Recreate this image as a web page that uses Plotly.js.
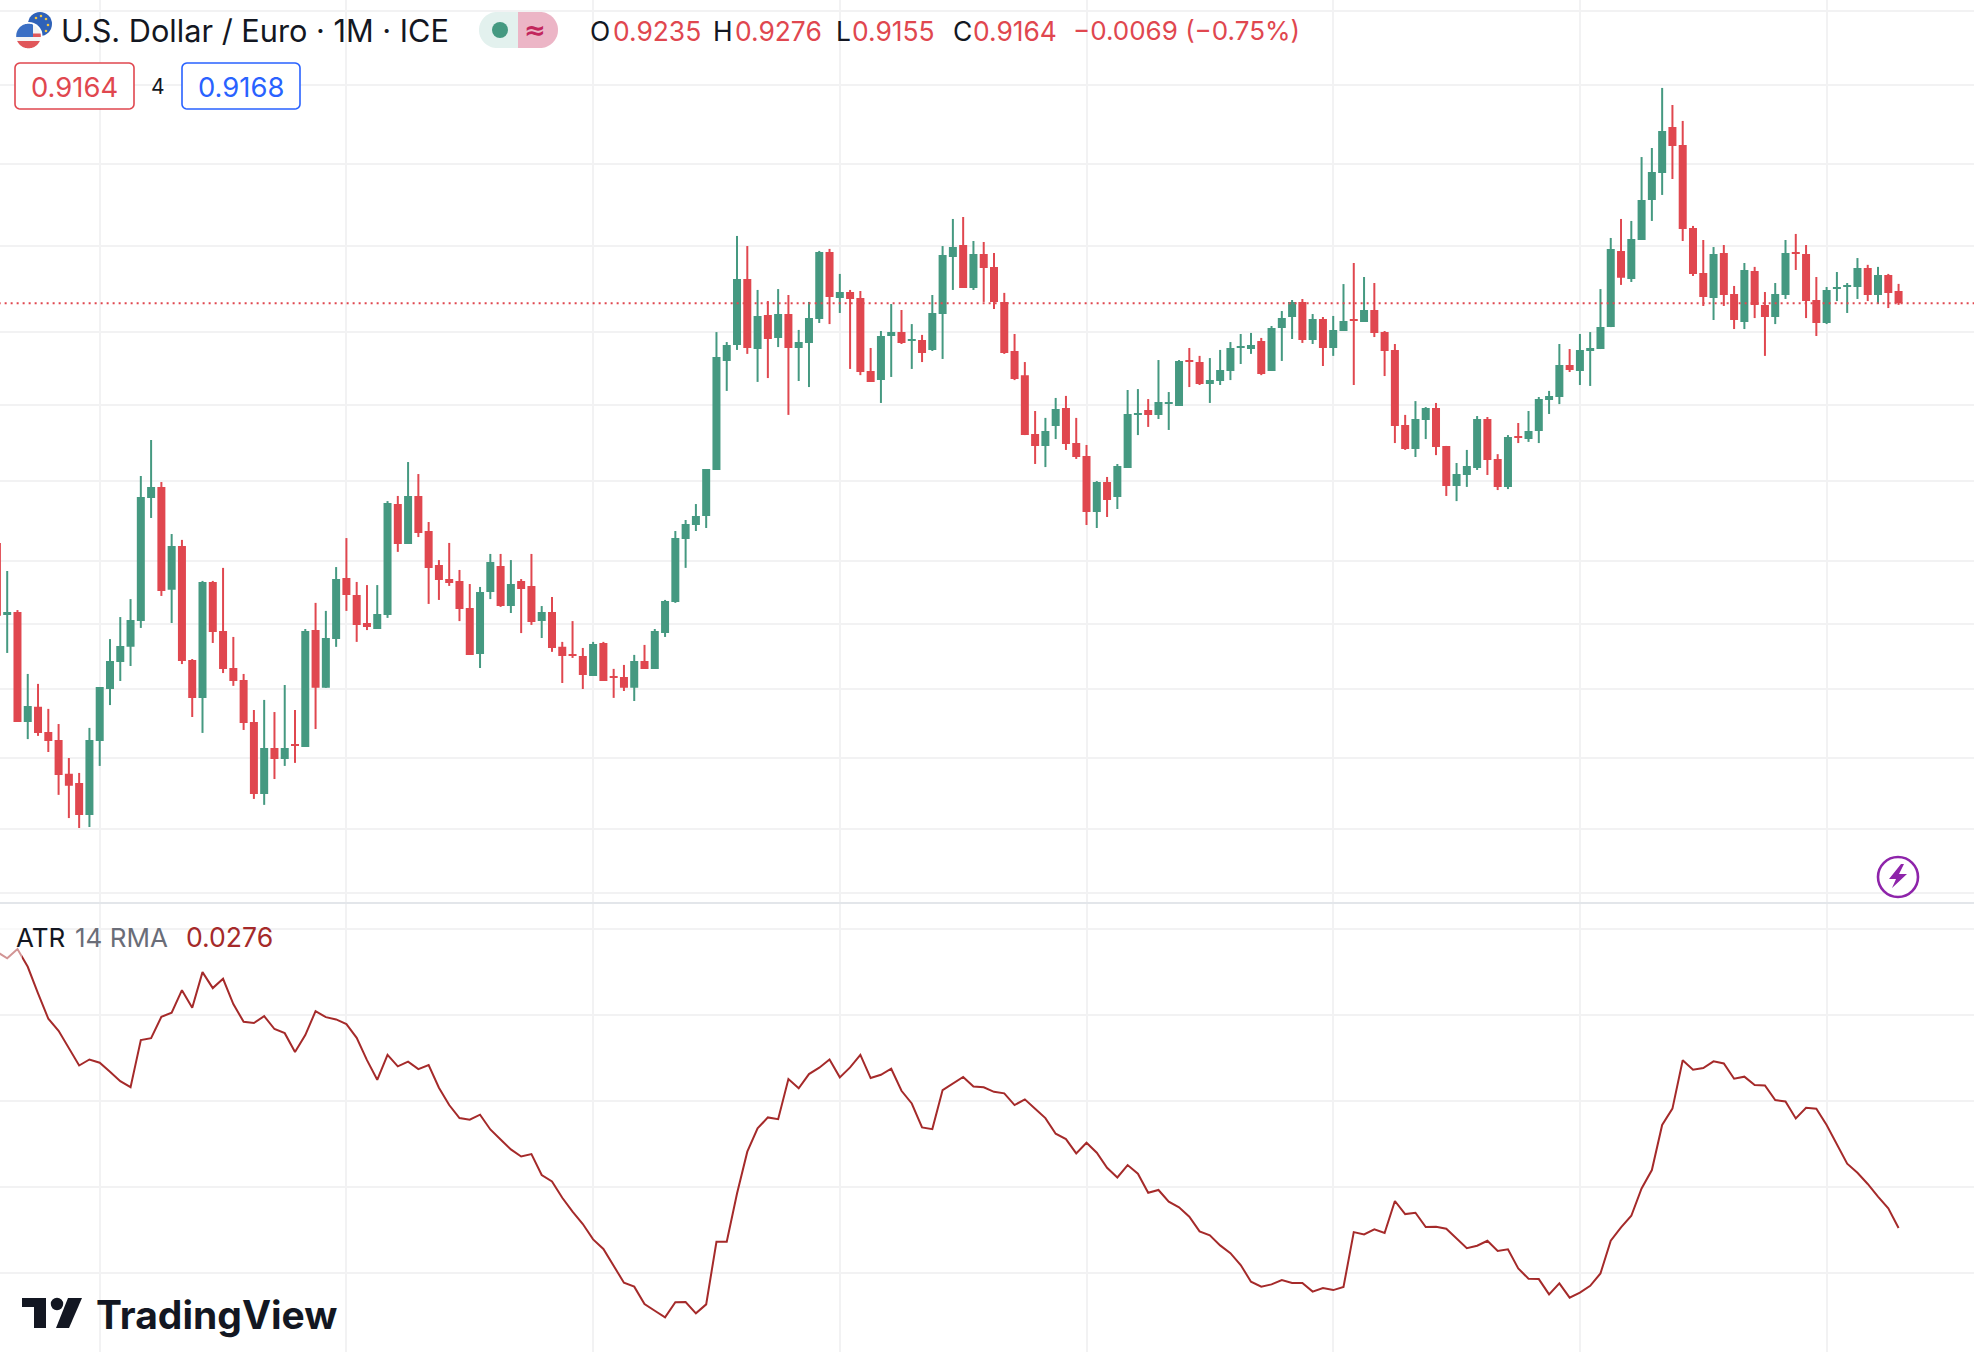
<!DOCTYPE html>
<html>
<head>
<meta charset="utf-8">
<script src="https://cdn.plot.ly/plotly-3.0.1.min.js"></script>
<style>html,body{margin:0;padding:0;background:#fff}#chart{width:1974px;height:1352px}</style>
</head>
<body>
<div id="chart"></div>
<script>
const open_ = [
.7890,.7543,.7557,.7055,.7122,.7011,.6976,.6830,.6791,.6657,
.6972,.7202,.7324,.7394,.7514,.8115,.8171,.7662,.7875,.7334,
.7162,.7700,.7468,.7297,.7243,.7055,.6745,.6941,.6894,.6959,
.6946,.7472,.7207,.7430,.7719,.7638,.7505,.7477,.7543,.8084,
.7885,.8125,.7949,.7782,.7714,.7705,.7576,.7361,.7652,.7777,
.7585,.7705,.7681,.7514,.7557,.7394,.7361,.7352,.7261,.7412,
.7261,.7256,.7207,.7329,.7293,.7458,.7604,.7909,.7979,.8024,
.8258,.8840,.8929,.9304,.8906,.9098,.8968,.9103,.8912,.8940,
.9075,.9463,.9195,.9229,.9195,.8785,.8735,.8979,.9001,.8951,
.8956,.8901,.9103,.9433,.9504,.9252,.9451,.9375,.9172,.8895,
.8762,.8446,.8383,.8488,.8584,.8398,.8330,.8044,.8196,.8120,
.8268,.8547,.8573,.8547,.8605,.8595,.8845,.8834,.8714,.8730,
.8785,.8912,.8906,.8951,.8785,.9024,.9086,.9172,.8956,.9075,
.8912,.9007,.9075,.9058,.9126,.9001,.8901,.8493,.8367,.8520,
.8584,.8383,.8176,.8232,.8268,.8525,.8315,.8171,.8435,.8419,
.8462,.8627,.8643,.8818,.8785,.8895,.8906,.9029,.9469,.9305,
.9534,.9775,.9942,1.0231,1.0117,.9606,.9340,.9195,.9457,.9218,
.9058,.9351,.9154,.9086,.9212,.9463,.9451,.9183,.9052,.9246,
.9258,.9258,.9369,.9212,.9328,.9235];
const high_ = [
.7890,.7753,.7566,.7270,.7225,.7113,.7046,.6898,.6834,.7029,
.7211,.7430,.7533,.7618,.8227,.8414,.8196,.7934,.7905,.7338,
.7705,.7705,.7768,.7440,.7270,.7108,.7153,.7099,.7220,.7108,
.7477,.7600,.7562,.7772,.7914,.7700,.7685,.7685,.8099,.8125,
.8299,.8237,.7994,.7806,.7890,.7758,.7690,.7676,.7836,.7836,
.7806,.7714,.7836,.7585,.7628,.7417,.7514,.7389,.7417,.7417,
.7293,.7311,.7357,.7403,.7477,.7614,.7949,.8004,.8084,.8263,
.9001,.8945,.9558,.9498,.9241,.9177,.9246,.9212,.9013,.9172,
.9469,.9481,.9334,.9241,.9235,.8912,.9007,.9160,.9126,.9046,
.8985,.9212,.9498,.9660,.9672,.9528,.9522,.9457,.9224,.8990,
.8834,.8568,.8531,.8638,.8649,.8531,.8388,.8201,.8222,.8289,
.8681,.8686,.8632,.8845,.8670,.8845,.8912,.8868,.8856,.8901,
.8945,.8990,.8996,.8968,.9035,.9120,.9183,.9189,.9103,.9086,
.9092,.9275,.9398,.9316,.9281,.9007,.8934,.8547,.8621,.8589,
.8611,.8383,.8294,.8362,.8541,.8536,.8340,.8440,.8504,.8568,
.8643,.8676,.8934,.8906,.8990,.9001,.9246,.9546,.9660,.9648,
1.0041,1.0098,1.0484,1.0373,1.0270,.9618,.9534,.9492,.9504,.9264,
.9398,.9375,.9229,.9281,.9534,.9570,.9504,.9316,.9258,.9345,
.9281,.9427,.9387,.9375,.9334,.9276];
const low_ = [
.7539,.7366,.7055,.6980,.6994,.6924,.6741,.6644,.6603,.6607,
.6864,.7130,.7238,.7306,.7482,.8014,.7633,.7505,.7315,.7077,
.7007,.7412,.7274,.7216,.7020,.6724,.6699,.6808,.6864,.6877,
.6946,.7024,.7207,.7394,.7562,.7417,.7472,.7477,.7529,.7846,
.7885,.7919,.7595,.7614,.7681,.7514,.7357,.7297,.7618,.7581,
.7552,.7458,.7496,.7435,.7371,.7229,.7343,.7202,.7261,.7238,
.7162,.7193,.7148,.7293,.7293,.7440,.7600,.7768,.7949,.7964,
.8258,.8676,.8901,.8879,.8725,.8746,.8917,.8547,.8730,.8697,
.9052,.9046,.9109,.8796,.8762,.8725,.8611,.8752,.8934,.8796,
.8834,.8895,.8851,.9241,.9252,.9241,.9172,.9132,.8879,.8735,
.8440,.8289,.8273,.8419,.8362,.8315,.7979,.7964,.8019,.8059,
.8268,.8440,.8483,.8525,.8467,.8595,.8697,.8708,.8611,.8708,
.8735,.8823,.8879,.8762,.8785,.8840,.8962,.8940,.8934,.8812,
.8868,.9007,.8708,.9058,.8973,.8757,.8398,.8362,.8325,.8419,
.8335,.8125,.8099,.8171,.8258,.8232,.8155,.8160,.8398,.8404,
.8398,.8552,.8605,.8779,.8708,.8703,.8906,.9029,.9270,.9287,
.9534,.9648,.9806,.9904,.9528,.9322,.9149,.9069,.9149,.9018,
.9018,.9080,.8868,.9046,.9189,.9357,.9080,.8979,.9046,.9177,
.9109,.9189,.9177,.9160,.9137,.9155];
const close_ = [
.7539,.7557,.7055,.7126,.7007,.6972,.6825,.6779,.6657,.6976,
.7211,.7329,.7398,.7519,.8120,.8171,.7657,.7875,.7329,.7162,
.7700,.7463,.7293,.7238,.7051,.6745,.6941,.6894,.6941,.6950,
.7468,.7207,.7435,.7714,.7638,.7496,.7486,.7547,.8089,.7885,
.8125,.7939,.7768,.7709,.7695,.7571,.7357,.7652,.7797,.7585,
.7690,.7666,.7510,.7557,.7389,.7352,.7352,.7265,.7407,.7238,
.7252,.7207,.7329,.7293,.7468,.7609,.7914,.7984,.8024,.8263,
.8862,.8929,.9304,.8912,.9092,.8962,.9103,.8912,.8945,.9080,
.9463,.9200,.9229,.9189,.8779,.8725,.8979,.9001,.8940,.8962,
.8884,.9109,.9445,.9492,.9252,.9451,.9369,.9172,.8884,.8741,
.8440,.8383,.8462,.8579,.8393,.8325,.8044,.8196,.8105,.8279,
.8552,.8557,.8547,.8616,.8616,.8840,.8834,.8714,.8735,.8790,
.8912,.8923,.8929,.8768,.9024,.9080,.9172,.8956,.9075,.8912,
.9013,.9063,.9063,.9126,.8996,.8895,.8488,.8367,.8525,.8584,
.8377,.8176,.8237,.8279,.8525,.8310,.8171,.8430,.8424,.8462,
.8632,.8649,.8818,.8790,.8901,.8912,.9029,.9481,.9311,.9540,
.9775,.9948,1.0206,1.0110,.9600,.9334,.9200,.9451,.9212,.9069,
.9357,.9154,.9086,.9218,.9457,.9451,.9177,.9052,.9241,.9258,
.9270,.9369,.9212,.9328,.9224,.9164];
const atr = [
.04366,.04328,.04382,.04279,.04124,.03977,.03907,.03804,.03705,.03740,
.03721,.03669,.03614,.03579,.03853,.03864,.03988,.04012,.04143,.04041,
.04248,.04155,.04209,.04062,.03959,.03952,.03992,.03917,.03893,.03783,
.03882,.04021,.03986,.03973,.03946,.03866,.03736,.03622,.03767,.03700,
.03727,.03684,.03707,.03576,.03475,.03399,.03390,.03419,.03333,.03275,
.03217,.03176,.03190,.03068,.03031,.02936,.02855,.02783,.02694,.02638,
.02539,.02442,.02419,.02318,.02279,.02240,.02328,.02329,.02264,.02316,
.02680,.02680,.02961,.03204,.03339,.03403,.03393,.03626,.03572,.03655,
.03692,.03740,.03636,.03694,.03767,.03632,.03651,.03686,.03558,.03484,
.03345,.03335,.03562,.03601,.03638,.03583,.03578,.03552,.03543,.03475,
.03508,.03454,.03399,.03308,.03277,.03194,.03256,.03198,.03110,.03054,
.03126,.03076,.02965,.02981,.02913,.02880,.02826,.02740,.02717,.02659,
.02614,.02545,.02448,.02419,.02432,.02457,.02440,.02440,.02390,.02411,
.02399,.02417,.02736,.02723,.02752,.02731,.02917,.02841,.02849,.02766,
.02767,.02756,.02698,.02643,.02657,.02686,.02626,.02636,.02525,.02465,
.02463,.02374,.02438,.02355,.02384,.02424,.02496,.02686,.02764,.02831,
.02990,.03097,.03359,.03454,.03735,.03680,.03690,.03729,.03717,.03628,
.03640,.03591,.03589,.03504,.03496,.03397,.03459,.03454,.03359,.03242,
.03134,.03081,.03016,.02942,.02874,.02760];
const lastClose = 0.9164;
const priceGrid = [1.10,1.05,1.00,0.95,0.90,0.86,0.82,0.78,0.75,0.72,0.69,0.66,0.634];
const atrGrid = [0.025,0.03,0.035,0.04,0.045];
const timeGrid = [10,34,58,82,106,130,154,178];
const bars = open_.map((_, i) => i);

const W = 1974, H = 1352, SPLIT = 903;
const GREEN = '#459981', RED = '#e0474f', GRID = '#f2f2f3', INK = '#131722';
const px = x => x / W, py = y => 1 - y / H;
const Inner = 'Inter, Roboto, sans-serif';

function rect(x0, y0, x1, y1, fill, extra) {
  return Object.assign({type:'rect', xref:'paper', yref:'paper', x0:px(x0), x1:px(x1), y0:py(y0), y1:py(y1),
    fillcolor:fill, line:{width:0}, layer:'above'}, extra || {});
}
function circle(cx, cy, r, fill, extra) {
  return Object.assign({type:'circle', xref:'paper', yref:'paper', x0:px(cx-r), x1:px(cx+r), y0:py(cy-r), y1:py(cy+r),
    fillcolor:fill, line:{width:0}, layer:'above'}, extra || {});
}
function poly(points, fill, extra) {
  const d = points.map((p, i) => (i ? 'L' : 'M') + px(p[0]) + ' ' + py(p[1])).join(' ') + ' Z';
  return Object.assign({type:'path', xref:'paper', yref:'paper', path:d, fillcolor:fill, line:{width:0}, layer:'above'}, extra || {});
}
function roundRect(x0, y0, x1, y1, r, fill, stroke, sw) {
  const pts = [];
  const corner = (cx, cy, a0) => { for (let i = 0; i <= 6; i++) { const a = a0 + i * Math.PI / 12; pts.push([cx + r*Math.cos(a), cy + r*Math.sin(a)]); } };
  corner(x1-r, y0+r, -Math.PI/2); corner(x1-r, y1-r, 0); corner(x0+r, y1-r, Math.PI/2); corner(x0+r, y0+r, Math.PI);
  return poly(pts, fill, {line:{color:stroke, width:sw}});
}
function disc(cx, cy, r, x0, x1, y0, y1, fill) {
  const pts = [];
  const clip = (x, y) => [Math.min(x1, Math.max(x0, x)), Math.min(y1, Math.max(y0, y))];
  for (let i = 0; i < 72; i++) { const a = i * Math.PI / 36; pts.push(clip(cx + r*Math.cos(a), cy + r*Math.sin(a))); }
  return poly(pts, fill);
}
function label(text, x, y, color, size, opts) {
  return Object.assign({xref:'paper', yref:'paper', x:px(x), y:py(y), text:text, showarrow:false, xanchor:'left', yanchor:'middle',
    borderpad:0, font:{family:Inner, size:size, color:color}}, opts || {});
}

const shapes = [
  rect(0, SPLIT-1, W, SPLIT+1, '#e3e6ea'),
  rect(0, 926, 22, 968, 'rgba(255,255,255,0.5)'),
  circle(40, 24, 12, '#2f62b8'),
  circle(36, 18, 1.3, '#f5c842'), circle(41, 16, 1.3, '#f5c842'), circle(46, 19, 1.3, '#f5c842'), circle(48, 25, 1.3, '#f5c842'), circle(46, 31, 1.3, '#f5c842'),
  circle(28.5, 36, 14, '#ffffff'),
  circle(28.5, 36, 12.3, '#f4f4f4'),
  disc(28.5, 36, 12.3, 16, 41, 41, 49, '#e0565a'),
  disc(28.5, 36, 12.3, 33, 41, 33.5, 37, '#e0565a'),
  disc(28.5, 36, 12.3, 16, 33, 23, 37, '#3b6fc4'),
  disc(497, 30, 18, 470, 518, 12, 48, '#e3f1ee'),
  rect(497, 12, 518, 48, '#e3f1ee'),
  disc(540, 30, 18, 540, 560, 12, 48, '#ecb5c6'),
  rect(518, 12, 540, 48, '#ecb5c6'),
  circle(500, 30, 8, GREEN),
  roundRect(15, 63, 134, 109, 5, '#ffffff', RED, 1.6),
  roundRect(182, 63, 300, 109, 5, '#ffffff', '#2962ff', 1.6),
  circle(1898, 877, 20, '#ffffff', {line:{color:'#8e24aa', width:2.6}}),
  poly([[1901,864],[1889,879],[1896,879],[1892,888],[1907,874],[1899,874],[1904,864]], '#8e24aa'),
  poly([[22,1298],[46,1298],[46,1328],[34,1328],[34,1307],[22,1307]], INK),
  circle(57, 1304, 6.2, INK),
  poly([[68,1298],[82,1298],[69,1328],[56,1328]], INK)
];

const annotations = [
  label('U.S. Dollar / Euro · 1M · ICE', 59.5, 31, INK, 30.7),
  label('≈', 523, 30, '#c2255c', 26, {font:{family:'DejaVu Sans', size:26, color:'#c2255c', weight:700}}),
  label('O', 589, 31, INK, 26.4),
  label('0.9235', 611.5, 31, RED, 26.4),
  label('H', 712, 31, INK, 26.4),
  label('0.9276', 733.5, 31, RED, 26.4),
  label('L', 835, 31, INK, 26.4),
  label('0.9155', 850.5, 31, RED, 26.4),
  label('C', 952, 31, INK, 26.4),
  label('0.9164', 972, 31, RED, 26.4),
  label('−0.0069 (−0.75%)', 1072, 31, RED, 26),
  label('0.9164', 74.5, 87, RED, 27.4, {xanchor:'center'}),
  label('4', 157.5, 87, INK, 21, {xanchor:'center'}),
  label('0.9168', 241, 87, '#2962ff', 27.4, {xanchor:'center'}),
  label('ATR', 15, 937, INK, 26),
  label('14 RMA', 74, 937, '#6a6d78', 26),
  label('0.0276', 184.5, 937, '#a52a2a', 26.6),
  label('TradingView', 94.5, 1314, INK, 39, {font:{family:Inner, size:39, color:INK, weight:700}})
];

// wicks: one broken line per direction, from the same high and low values
function wicks(isUp) {
  const xs = [], ys = [];
  bars.forEach(i => {
    if ((close_[i] >= open_[i]) === isUp) { xs.push(i, i, null); ys.push(low_[i], high_[i], null); }
  });
  return {type:'scatter', mode:'lines', x:xs, y:ys, xaxis:'x', yaxis:'y', connectgaps:false,
    line:{color:isUp ? GREEN : RED, width:2}, hoverinfo:'skip', showlegend:false};
}

const traces = [
  {type:'candlestick', x:bars, open:open_, high:high_, low:low_, close:close_, xaxis:'x', yaxis:'y',
   whiskerwidth:0, hoverinfo:'skip', showlegend:false,
   increasing:{line:{color:GREEN, width:0}, fillcolor:GREEN},
   decreasing:{line:{color:RED, width:0}, fillcolor:RED}},
  wicks(true),
  wicks(false),
  {type:'scatter', mode:'lines', x:[bars[0]-1, bars[bars.length-1]+8], y:[lastClose, lastClose], xaxis:'x', yaxis:'y',
   line:{color:RED, width:2, dash:'2px,4px'}, hoverinfo:'skip', showlegend:false},
  {type:'scatter', mode:'lines', x:bars, y:atr, xaxis:'x2', yaxis:'y2',
   line:{color:'#a52a2a', width:2, shape:'linear'}, hoverinfo:'skip', showlegend:false}
];

const xBase = {showticklabels:false, ticks:'', zeroline:false, showline:false, showgrid:true, gridcolor:GRID, gridwidth:1.5,
  tickmode:'array', tickvals:timeGrid, range:[0.30, 192.338], fixedrange:true};

const layout = {
  width:W, height:H, margin:{l:0, r:0, t:0, b:0, pad:0}, paper_bgcolor:'#ffffff', plot_bgcolor:'#ffffff',
  showlegend:false, boxgap:0.222, boxgroupgap:0, hovermode:false,
  xaxis:Object.assign({}, xBase, {anchor:'y', rangeslider:{visible:false}}),
  xaxis2:Object.assign({}, xBase, {anchor:'y2'}),
  yaxis:{type:'log', domain:[1 - 902/H, 1], range:[Math.log10(0.63046), Math.log10(1.1076)], anchor:'x',
    showticklabels:false, ticks:'', zeroline:false, showline:false, showgrid:true, gridcolor:GRID, gridwidth:1.5,
    tickmode:'array', tickvals:priceGrid, fixedrange:true},
  yaxis2:{domain:[0, 1 - 904/H], range:[0.02039, 0.04644], anchor:'x2',
    showticklabels:false, ticks:'', zeroline:false, showline:false, showgrid:true, gridcolor:GRID, gridwidth:1.5,
    tickmode:'array', tickvals:atrGrid, fixedrange:true},
  shapes:shapes, annotations:annotations
};

Plotly.newPlot('chart', traces, layout, {displayModeBar:false, responsive:false});
</script>
</body>
</html>
